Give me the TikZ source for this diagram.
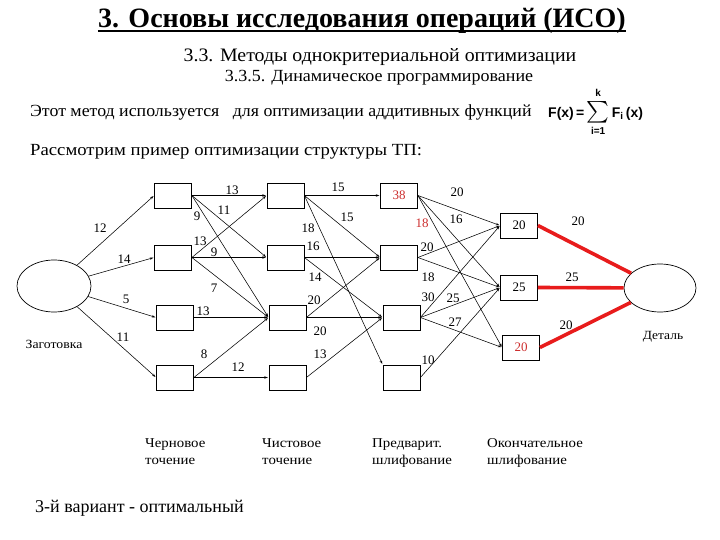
\documentclass[tikz,border=0pt]{standalone}
\usepackage{amsmath}
\usepackage{graphicx}
\usepackage{fontspec}
\setmainfont{Liberation Serif}
\newfontfamily\timesfont{Liberation Serif}
\newfontfamily\arialfont{Liberation Sans}
\usetikzlibrary{arrows.meta,shapes.geometric}
\definecolor{optred}{RGB}{232,28,28}
\definecolor{numred}{RGB}{205,45,45}
\begin{document}
\begin{tikzpicture}[x=1pt,y=-1pt,
  box/.style={draw, line width=0.8pt, minimum width=37pt, minimum height=25pt, inner sep=0pt,
              font=\timesfont\fontsize{13}{14}\selectfont},
  oval/.style={draw, ellipse, line width=0.7pt, inner sep=0pt},
  edge/.style={line width=0.55pt, -{Stealth[length=3.5pt,width=2.4pt]}, shorten >=0.8pt},
  best/.style={line width=3.6pt, optred},
  lbl/.style={font=\timesfont\fontsize{13}{14}\selectfont, inner sep=0pt},
  caption/.style={font=\timesfont\fontsize{13.5}{17}\selectfont, xscale=1.1, align=left, anchor=north west, inner sep=0pt},
  headtext/.style={inner sep=0pt}]
\useasboundingbox (0,0) rectangle (720,540);
\fill[white] (0,0) rectangle (720,540);

% ---------- heading ----------
\node[headtext, font=\timesfont\fontsize{28}{30}\selectfont\bfseries] (title) at (362,21) {3. Основы исследования операций (ИСО)};
\draw[line width=1.6pt] ([yshift=-3.5pt]title.base west) -- ([yshift=-3.5pt]title.base east);
\node[headtext, font=\timesfont\fontsize{19}{21}\selectfont, xscale=1.045] (sub1) at (380,57) {3.3. Методы однокритериальной оптимизации};
\node[headtext, font=\timesfont\fontsize{17}{19}\selectfont, xscale=1.06] (sub2) at (379,78) {3.3.5. Динамическое программирование};
\node[headtext, font=\timesfont\fontsize{17}{19}\selectfont, xscale=1.05, anchor=west] (line1) at (30,112) {Этот метод используется\hspace{0.5em} для оптимизации аддитивных функций};
\node[headtext, font=\arialfont\bfseries\fontsize{14}{15}\selectfont, anchor=west] (formula) at (548,112)
  {F(x)\,=\,$\overset{\raisebox{2pt}{\fontsize{10}{11}\selectfont\textbf{k}}}{\underset{\raisebox{-3pt}{\fontsize{10}{11}\selectfont\textbf{i=1}}}{\scalebox{1.5}{$\sum$}}}$\,F$_{\text{i}}$\,(x)};
\node[headtext, font=\timesfont\fontsize{17}{19}\selectfont, xscale=1.1, anchor=west] (line2) at (30,152) {Рассмотрим пример оптимизации структуры ТП:};

% ---------- nodes ----------
\node[oval, minimum width=74pt, minimum height=52pt] (e0) at (54,286) {};
\node[oval, minimum width=72pt, minimum height=48pt] (e1) at (660,288) {};

\node[box] (a1) at (173,195.5) {};
\node[box] (a2) at (173,257.5) {};
\node[box] (a3) at (175,317.5) {};
\node[box] (a4) at (175,377.5) {};

\node[box] (b1) at (285.5,195.5) {};
\node[box] (b2) at (285.5,257.5) {};
\node[box] (b3) at (287.5,317.5) {};
\node[box] (b4) at (287.5,377.5) {};

\node[box, text=numred] (c1) at (399,195.5) {38\hspace{7pt}};
\node[box] (c2) at (399,257.5) {};
\node[box] (c3) at (401.5,317.5) {};
\node[box] (c4) at (401.5,377.5) {};

\node[box] (d1) at (519,225.5) {20\hspace{7pt}};
\node[box] (d2) at (519,287.5) {25\hspace{7pt}};
\node[box, text=numred] (d3) at (521,347.5) {20\hspace{7pt}};

% ---------- connectors ----------
\draw[edge] (e0) -- (a1.west);
\draw[edge] (e0) -- (a2.west);
\draw[edge] (e0) -- (a3.west);
\draw[edge] (e0) -- (a4.west);

\draw[edge] (a1.east) -- (b1.west);
\draw[edge] (a1.east) -- (b2.west);
\draw[edge] (a1.east) -- (b3.west);
\draw[edge] (a2.east) -- (b1.west);
\draw[edge] (a2.east) -- (b2.west);
\draw[edge] (a2.east) -- (b3.west);
\draw[edge] (a3.east) -- (b3.west);
\draw[edge] (a4.east) -- (b3.west);
\draw[edge] (a4.east) -- (b4.west);

\draw[edge] (b1.east) -- (c1.west);
\draw[edge] (b1.east) -- (c2.west);
\draw[edge] (b1.east) -- (c4.north west);
\draw[edge] (b2.east) -- (c2.west);
\draw[edge] (b2.east) -- (c3.west);
\draw[edge] (b3.east) -- (c2.west);
\draw[edge] (b3.east) -- (c3.west);
\draw[edge] (b4.east) -- (c3.west);

\draw[edge] (c1.east) -- (d1.west);
\draw[edge] (c1.east) -- (d2.west);
\draw[edge] (c1.east) -- (d3.west);
\draw[edge] (c2.east) -- (d1.west);
\draw[edge] (c2.east) -- (d2.west);
\draw[edge] (c3.east) -- (d1.west);
\draw[edge] (c3.east) -- (d2.west);
\draw[edge] (c3.east) -- (d3.west);
\draw[edge] (c4.east) -- (d2.west);

\draw[best] (d1.east) -- (e1);
\draw[best] (d2.east) -- (e1);
\draw[best] (d3.east) -- (e1);

% ---------- connector labels ----------
\node[lbl] (l01) at (100,228) {12};
\node[lbl] (l02) at (124,259) {14};
\node[lbl] (l03) at (126,299) {5};
\node[lbl] (l04) at (123,337) {11};

\node[lbl] (l11) at (232,190) {13};
\node[lbl] (l12) at (224,210) {11};
\node[lbl] (l13) at (197,216) {9};
\node[lbl] (l21) at (200,241) {13};
\node[lbl] (l22) at (214,252) {9};
\node[lbl] (l23) at (214,288) {7};
\node[lbl] (l33) at (203,311) {13};
\node[lbl] (l43) at (204,354) {8};
\node[lbl] (l44) at (238,367) {12};

\node[lbl] (m11) at (338,187) {15};
\node[lbl] (m12) at (347,217) {15};
\node[lbl] (m14) at (308,228) {18};
\node[lbl] (m22) at (313,246) {16};
\node[lbl] (m23) at (315,277) {14};
\node[lbl] (m32) at (314,300) {20};
\node[lbl] (m33) at (320,331) {20};
\node[lbl] (m43) at (320,354) {13};

\node[lbl] (n11) at (457,192) {20};
\node[lbl] (n12) at (456,219) {16};
\node[lbl, text=numred] (n13) at (422,223) {18};
\node[lbl] (n21) at (427,247) {20};
\node[lbl] (n22) at (428,277) {18};
\node[lbl] (n31) at (428,297) {30};
\node[lbl] (n32) at (453,298) {25};
\node[lbl] (n33) at (455,322) {27};
\node[lbl] (n42) at (428,360) {10};

\node[lbl] (o1) at (578,221) {20};
\node[lbl] (o2) at (572,277) {25};
\node[lbl] (o3) at (566,325) {20};

% ---------- captions ----------
\node[lbl, font=\timesfont\fontsize{12.5}{14}\selectfont, xscale=1.1] (start) at (54,344) {Заготовка};
\node[lbl, font=\timesfont\fontsize{12.5}{14}\selectfont, xscale=1.08] (finish) at (663,337) {Деталь};

\node[caption] (s1) at (145,438) {Черновое\\точение};
\node[caption] (s2) at (262,438) {Чистовое\\точение};
\node[caption] (s3) at (372,438) {Предварит.\\шлифование};
\node[caption] (s4) at (487,438) {Окончательное\\шлифование};

\node[headtext, font=\timesfont\fontsize{18}{20}\selectfont, anchor=west] (result) at (35,508) {3-й вариант - оптимальный};
\end{tikzpicture}
\end{document}
